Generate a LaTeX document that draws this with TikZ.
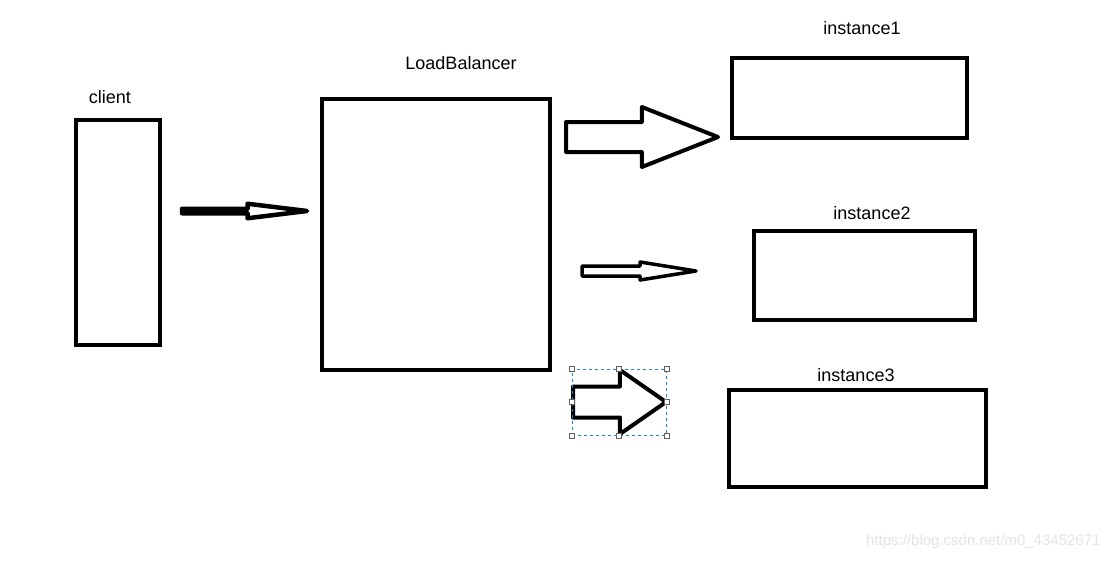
\documentclass[tikz,border=0pt]{standalone}
\usepackage{fontspec}
\setmainfont{Liberation Sans}
\usepackage{xcolor}
\usepackage{tikz}
\usetikzlibrary{shapes.arrows,positioning}
\definecolor{selBlue}{HTML}{1E7FD8}
\definecolor{markGray}{HTML}{E4E4E4}
\definecolor{handleGray}{HTML}{606060}

\begin{document}
\begin{tikzpicture}[x=1pt, y=-1pt,
  every node/.style={font=\fontsize{18}{21}\selectfont},
  box/.style={draw, line width=4pt, inner sep=0pt, outer sep=0pt},
  blockarrow/.style={draw, single arrow, line join=round,
                     inner xsep=0pt, outer sep=0pt, anchor=tail},
  handle/.style={draw=handleGray, fill=white, line width=0.8pt,
                 minimum size=5pt, inner sep=0pt},
]
\useasboundingbox (0,0) rectangle (1111,560);

% Boxes
\node[box, minimum width=84pt, minimum height=225pt] (client) at (118,232.5) {};
\node[box, minimum width=228pt, minimum height=271pt] (lb) at (436,234.5) {};
\node[box, minimum width=235pt, minimum height=80pt] (inst1) at (849.5,98) {};
\node[box, minimum width=221pt, minimum height=89pt] (inst2) at (864.5,275.5) {};
\node[box, minimum width=257pt, minimum height=97pt] (inst3) at (857.5,438.5) {};

% Labels
\node (clientlbl) at (110,97) {client};
\node (lblbl) at (461,63) {LoadBalancer};
\node (inst1lbl) at (862,28) {instance1};
\node (inst2lbl) at (872,213) {instance2};
\node (inst3lbl) at (856,375) {instance3};

% Arrows (inner ysep sets the shaft, head extend = head beyond shaft)
\node[blockarrow, line width=4.5pt, inner ysep=0pt, single arrow head extend=5pt,
      minimum height=125pt, single arrow tip angle=13.9] (toLb) at (182,211) {};
\node[blockarrow, line width=4pt, inner ysep=13pt, single arrow head extend=15pt,
      minimum height=152pt, single arrow tip angle=43] (toInst1) at (566,137) {};
\node[blockarrow, line width=3.5pt, inner ysep=3.25pt, single arrow head extend=4pt,
      minimum height=114pt, single arrow tip angle=18.3] (toInst2) at (582,271) {};
\node[blockarrow, line width=4pt, inner ysep=13.5pt, single arrow head extend=16.5pt,
      minimum height=93pt, single arrow tip angle=69.6] (toInst3) at (573,402) {};

% Selection frame round the last arrow
\node[draw=selBlue, dashed, line width=0.8pt, inner sep=0pt,
      minimum width=94pt, minimum height=66pt] (sel) at (619,402) {};
\foreach \a [count=\i] in {north west,north,north east,west,east,south west,south,south east}
  \node[handle] (hdl\i) at (sel.\a) {};

% Watermark
\node[text=markGray, font=\fontsize{15}{18}\selectfont, anchor=east] (mark)
  at (1104,542) {https://blog.csdn.net/m0\_43452671};

\end{tikzpicture}
\end{document}
